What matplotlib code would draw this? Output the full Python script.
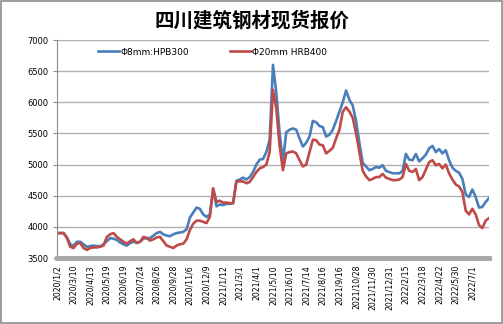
import matplotlib
matplotlib.use("Agg")
import matplotlib.pyplot as plt
from matplotlib.patches import Rectangle

plt.rcParams['font.family'] = ['DejaVu Sans', 'Noto Sans CJK SC']

title = "四川建筑钢材现货报价"
series_names = ["Φ8mm:HPB300", "Φ20mm HRB400"]

tick_labels = [
    "2020/1/2", "2020/3/10", "2020/4/13", "2020/5/19", "2020/6/19", "2020/7/24",
    "2020/8/26", "2020/9/28", "2020/11/6", "2020/12/9", "2021/1/12", "2021/3/1",
    "2021/4/1", "2021/5/10", "2021/6/10", "2021/7/14", "2021/8/16", "2021/9/16",
    "2021/10/28", "2021/11/30", "2021/12/31", "2022/2/15", "2022/3/18", "2022/4/22",
    "2022/5/30", "2022/7/1",
]

# prices sampled along the x axis, 5 samples per labelled tick
hpb300 = [
    3900, 3900, 3900, 3830, 3720, 3700, 3760, 3760, 3720, 3680,
    3690, 3700, 3690, 3690, 3720, 3770, 3820, 3810, 3790, 3750,
    3720, 3700, 3740, 3760, 3750, 3760, 3810, 3820, 3820, 3860,
    3900, 3920, 3880, 3860, 3850, 3880, 3900, 3910, 3920, 3960,
    4150, 4230, 4310, 4290, 4200, 4160, 4200, 4600, 4330, 4360,
    4350, 4370, 4370, 4380, 4740, 4760, 4790, 4760, 4800, 4880,
    5000, 5080, 5090, 5200, 5400, 6600, 6150, 5500, 5050, 5520,
    5560, 5580, 5560, 5420, 5290, 5350, 5450, 5700, 5680, 5620,
    5600, 5450, 5480, 5560, 5700, 5850, 6000, 6190, 6040, 5950,
    5700, 5350, 5030, 4970, 4910, 4930, 4960, 4950, 4990, 4900,
    4880, 4860, 4860, 4860, 4900, 5170, 5080, 5070, 5170, 5050,
    5100, 5160, 5260, 5300, 5200, 5250, 5180, 5230, 5070, 4950,
    4900, 4870, 4770, 4520, 4480, 4600, 4480, 4310, 4320, 4400,
    4460,
]
hrb400 = [
    3900, 3900, 3900, 3820, 3680, 3660, 3730, 3740, 3660, 3630,
    3660, 3670, 3670, 3680, 3700, 3840, 3880, 3900, 3840, 3800,
    3760, 3730, 3770, 3800, 3740, 3760, 3840, 3820, 3780, 3800,
    3830, 3840, 3770, 3700, 3680, 3660, 3700, 3720, 3730, 3800,
    3950, 4050, 4100, 4100, 4080, 4060, 4160, 4620, 4400, 4420,
    4390, 4390, 4380, 4380, 4730, 4730, 4730, 4700, 4720, 4800,
    4880, 4940, 4960, 5000, 5200, 6200, 5900, 5300, 4910, 5180,
    5200, 5210, 5180, 5070, 4970, 5000, 5200, 5400, 5390, 5320,
    5310, 5180, 5220, 5270, 5420, 5560, 5850, 5920, 5850, 5750,
    5500, 5200, 4900, 4810, 4750, 4770, 4800, 4800, 4850, 4790,
    4770, 4750, 4750, 4760, 4800, 5010, 4900, 4880, 4930, 4750,
    4800, 4920, 5040, 5070, 4990, 5010, 4940, 5000, 4860, 4760,
    4680, 4650, 4560, 4260, 4200, 4290, 4200, 4030, 3980, 4100,
    4140,
]

fig = plt.figure(figsize=(5.03, 3.24), dpi=100)
fig.patches.append(Rectangle((0.001, 0.002), 0.997, 0.995, transform=fig.transFigure,
                             fill=False, edgecolor="#8c8c8c", linewidth=1.2))
ax = fig.add_axes([0.1133, 0.2037, 0.8588, 0.6728])

x = list(range(len(hpb300)))
ax.plot(x, hpb300, color="#4a7ebb", linewidth=1.9, label=series_names[0])
ax.plot(x, hrb400, color="#be4b48", linewidth=1.9, label=series_names[1])

ax.set_xlim(0, len(x) - 1)
ax.set_ylim(3500, 7000)
ax.set_yticks(range(3500, 7001, 500))
ax.set_xticks(range(0, len(tick_labels) * 5, 5))
ax.set_xticklabels(tick_labels, rotation=90)
ax.tick_params(axis="x", length=0, pad=5, labelsize=5.6)
ax.tick_params(axis="y", length=3, color="#8c8c8c", labelsize=6, pad=3)
ax.grid(axis="y", color="#b0b0b0", linewidth=1)
ax.set_axisbelow(True)

for s in ("top", "right"):
    ax.spines[s].set_visible(False)
ax.spines["left"].set_color("#8c8c8c")
ax.spines["bottom"].set_color("#a6a6a6")
ax.spines["bottom"].set_linewidth(3.5)

ax.legend(loc="center", bbox_to_anchor=(0.36, 0.945), ncol=2, frameon=False,
          fontsize=6.5, handlelength=2.4, handletextpad=0.1, columnspacing=4.5)

fig.text(0.5, 0.935, title, ha="center", va="center", fontsize=14,
         fontweight="bold", family=["Noto Sans CJK SC", "DejaVu Sans"])

fig.savefig("out.png", dpi=100)
